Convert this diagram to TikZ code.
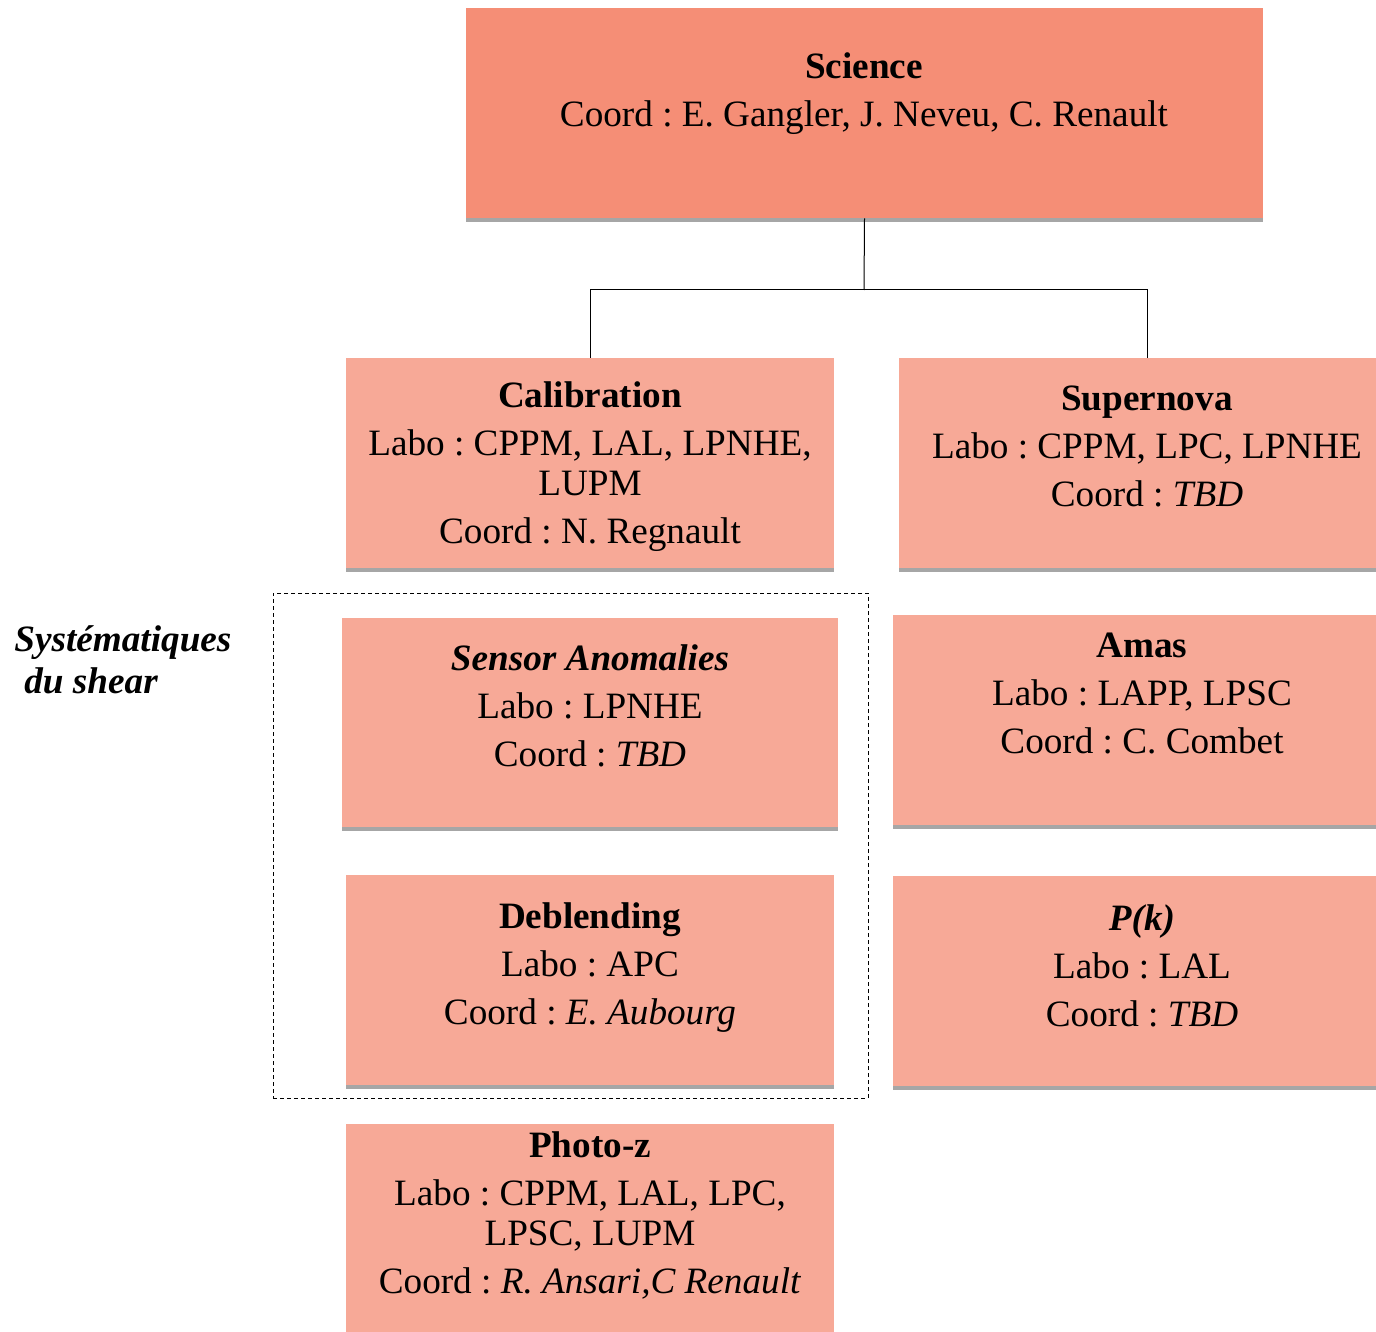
\documentclass[tikz,border=0pt]{standalone}
\usepackage{fontspec}
\setmainfont{Liberation Serif}
\usetikzlibrary{shadows}
\frenchspacing

\definecolor{scienceSalmon}{RGB}{245,142,118}
\definecolor{groupSalmon}{RGB}{247,169,151}
\definecolor{shadowGrey}{RGB}{166,166,166}

\tikzset{
  wgbox/.style={rectangle, fill=groupSalmon, draw=none, inner sep=0pt,
    minimum width=244pt, minimum height=105pt,
    drop shadow={shadow xshift=0pt, shadow yshift=-2pt, fill=shadowGrey, opacity=1}},
  wgtext/.style={anchor=north, align=center, inner sep=0pt,
    font=\fontsize{18.6}{20}\selectfont},
}

\begin{document}
\begin{tikzpicture}[x=0.5pt,y=-0.5pt]
      \useasboundingbox (0,0) rectangle (1376,1332);

      % Top box
      \node [wgbox, fill=scienceSalmon, minimum width=398.5pt] (sci) at (864.5,113) {};
      \node [wgtext] (sciText) at (864,52)
        {\textbf{Science}\\[4pt] Coord : E. Gangler, J. Neveu, C. Renault};

      % Working groups
      \node [wgbox] (calib) at (590,463) {};
      \node [wgbox, minimum width=248pt] (super) at (1147,463) {};
      \node [wgbox, minimum width=248pt, minimum height=104.5pt] (sensor) at (590,722.5) {};
      \node [wgbox, minimum width=248pt] (amas) at (1141,720) {};
      \node [wgbox] (debl) at (590,980) {};
      \node [wgbox, minimum width=248pt] (pk) at (1141,981) {};
      \node [wgbox] (photoz) at (590,1229) {};

      % Group texts
      \node [wgtext] (calibText) at (590,381)
        {\textbf{Calibration}\\[4pt] Labo : CPPM, LAL, LPNHE,\\ LUPM\\[4pt] Coord : N. Regnault};
      \node [wgtext] (superText) at (1147,385)
        {\textbf{Supernova}\\[4pt] Labo : CPPM, LPC, LPNHE\\[4pt] Coord : \textit{TBD}};
      \node [wgtext] (sensorText) at (590,644)
        {\textbf{\textit{Sensor Anomalies}}\\[4pt] Labo : LPNHE\\[4pt] Coord : \textit{TBD}};
      \node [wgtext] (amasText) at (1142,633)
        {\textbf{Amas}\\[4pt] Labo : LAPP, LPSC\\[4pt] Coord : C. Combet};
      \node [wgtext] (deblText) at (590,902)
        {\textbf{Deblending}\\[4pt] Labo : APC\\[4pt] Coord : \textit{E. Aubourg}};
      \node [wgtext] (pkText) at (1142,904)
        {\textbf{\textit{P(k)}}\\[4pt] Labo : LAL\\[4pt] Coord : \textit{TBD}};
      \node [wgtext] (photozText) at (590,1131)
        {\textbf{Photo-z}\\[4pt] Labo : CPPM, LAL, LPC,\\ LPSC, LUPM\\[4pt] Coord : \textit{R. Ansari,C Renault}};

      % Shear systematics group
      \node [draw, dashed, dash pattern=on 2pt off 1.5pt, line width=0.5pt,
        minimum width=297.5pt, minimum height=252.5pt, inner sep=0pt] (shearBox) at (570.5,845.5) {};
      \node [anchor=north west, align=left, inner sep=0pt,
        font=\fontsize{18.6}{21}\selectfont\bfseries\itshape] (shearLabel) at (14,625)
        {Systématiques\\ \hspace*{5pt}du shear};

      % Tree connectors
      \coordinate (fork) at (864,290);
      \draw [line width=0.5pt] (sci.south) -- (fork);
      \draw [line width=0.5pt] (fork) -| (calib.north);
      \draw [line width=0.5pt] (fork) -| (super.north);
\end{tikzpicture}
\end{document}
